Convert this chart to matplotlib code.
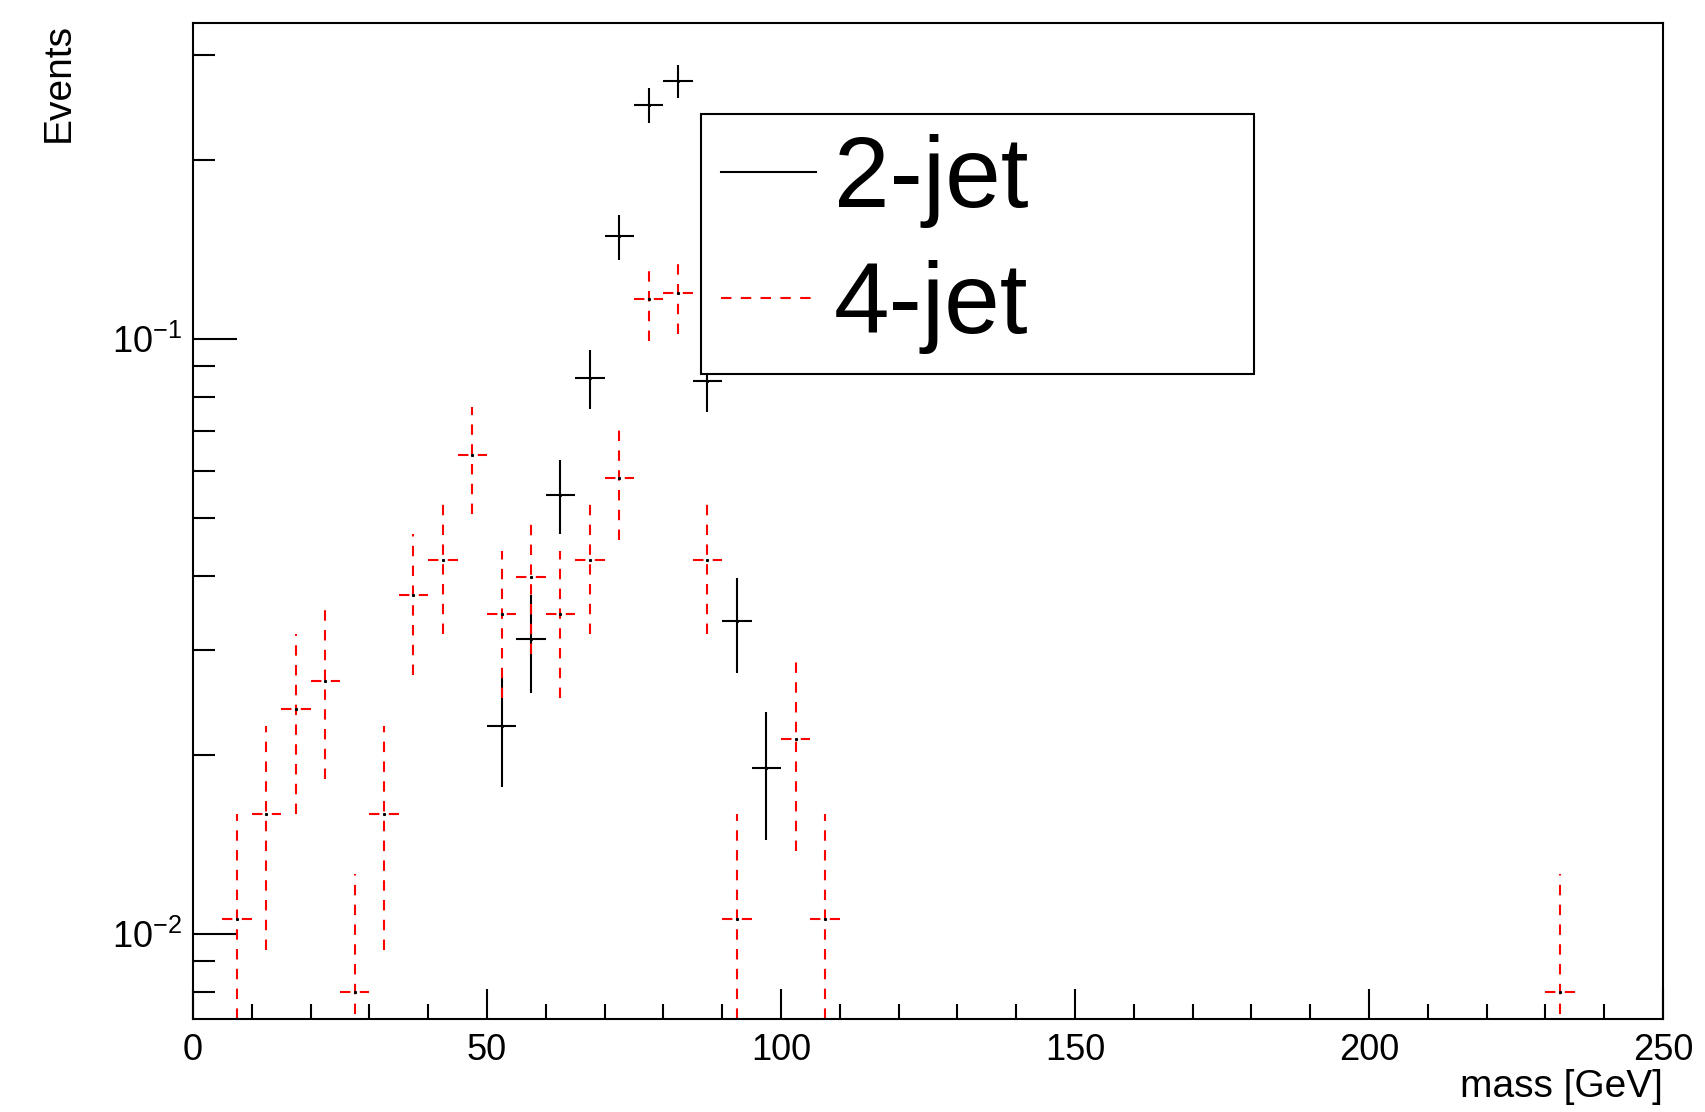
import matplotlib
matplotlib.use("Agg")
import matplotlib.pyplot as plt
from matplotlib.lines import Line2D
from matplotlib.ticker import LogLocator, MultipleLocator, NullFormatter

plt.rcParams["font.family"] = ["Liberation Sans", "DejaVu Sans"]
plt.rcParams["mathtext.fontset"] = "custom"
plt.rcParams["mathtext.rm"] = "Liberation Sans"
plt.rcParams["mathtext.it"] = "Liberation Sans:italic"
plt.rcParams["mathtext.default"] = "regular"

# bin centres [GeV], normalised contents and errors
mass_2jet = [52.5, 57.5, 62.5, 67.5, 72.5, 77.5, 82.5, 87.5, 92.5, 97.5]
events_2jet = [0.0224, 0.0313, 0.0548, 0.0861, 0.1488, 0.2473, 0.2716, 0.0850, 0.0336, 0.0190]
err_2jet = [0.0047, 0.0059, 0.0078, 0.0098, 0.0129, 0.0167, 0.0174, 0.0097, 0.0061, 0.0046]

mass_4jet = [7.5, 12.5, 17.5, 22.5, 27.5, 32.5, 37.5, 42.5, 47.5, 52.5, 57.5,
             62.5, 67.5, 72.5, 77.5, 82.5, 87.5, 92.5, 102.5, 107.5, 232.5]
events_4jet = [0.0106, 0.0159, 0.0239, 0.0266, 0.0080, 0.0159, 0.0372, 0.0425, 0.0638, 0.0345, 0.0399,
               0.0345, 0.0425, 0.0585, 0.1169, 0.1196, 0.0425, 0.0106, 0.0213, 0.0106, 0.0080]
err_4jet = [0.0053, 0.0065, 0.0080, 0.0084, 0.0046, 0.0065, 0.0099, 0.0106, 0.0130, 0.0096, 0.0103,
            0.0096, 0.0106, 0.0125, 0.0176, 0.0178, 0.0106, 0.0053, 0.0075, 0.0053, 0.0046]

BIN_HALF = 2.5
LW = 1.5
DASH = (0, (5, 4.5))

fig = plt.figure(figsize=(17.06, 11.12), dpi=100)
ax = fig.add_axes([0.1131, 0.0836, 0.8617, 0.8957])

# 2-jet: solid black crosses
ax.errorbar(mass_2jet, events_2jet, xerr=BIN_HALF, yerr=err_2jet, fmt="s", ms=1.2,
            color="black", ecolor="black", elinewidth=LW, capsize=0)

# 4-jet: dashed red crosses
eb = ax.errorbar(mass_4jet, events_4jet, xerr=BIN_HALF, yerr=err_4jet, fmt="s", ms=1.2,
                 color="black", ecolor="red", elinewidth=LW, capsize=0)
for coll in eb[2]:
    coll.set_linestyle(DASH)

ax.set_yscale("log")
ax.set_xlim(0, 250)
ax.set_ylim(0.00720, 0.3397)

ax.xaxis.set_major_locator(MultipleLocator(50))
ax.xaxis.set_minor_locator(MultipleLocator(10))
ax.yaxis.set_major_locator(LogLocator(base=10))
ax.yaxis.set_minor_locator(LogLocator(base=10, subs=range(2, 10)))
ax.yaxis.set_minor_formatter(NullFormatter())

ax.tick_params(which="both", direction="in", top=False, right=False, width=LW, labelsize=26)
ax.tick_params(axis="x", which="major", length=21.6, pad=10)
ax.tick_params(axis="x", which="minor", length=10.8)
ax.tick_params(axis="y", which="major", length=31.7, pad=8)
ax.tick_params(axis="y", which="minor", length=15.8)

for sp in ax.spines.values():
    sp.set_linewidth(LW)

ax.set_xlabel("mass [GeV]", fontsize=28, loc="right")
ax.xaxis.set_label_coords(1.0, -0.05)
ax.set_ylabel("Events", fontsize=28, loc="top")
ax.yaxis.set_label_coords(-0.079, 1.0)

handles = [Line2D([], [], color="black", lw=LW),
           Line2D([], [], color="red", lw=LW, linestyle=DASH)]
leg = ax.legend(handles, ["2-jet", "4-jet"], loc="upper left",
                bbox_to_anchor=(0.3453, 0.6446, 0.3766, 0.2641), mode="expand",
                fontsize=72, frameon=True, fancybox=False, framealpha=1,
                borderpad=0.2, labelspacing=0.325, handlelength=0.95,
                handletextpad=0.18, borderaxespad=0)
leg.get_frame().set_edgecolor("black")
leg.get_frame().set_linewidth(LW)

fig.savefig("out.png", dpi=100)
